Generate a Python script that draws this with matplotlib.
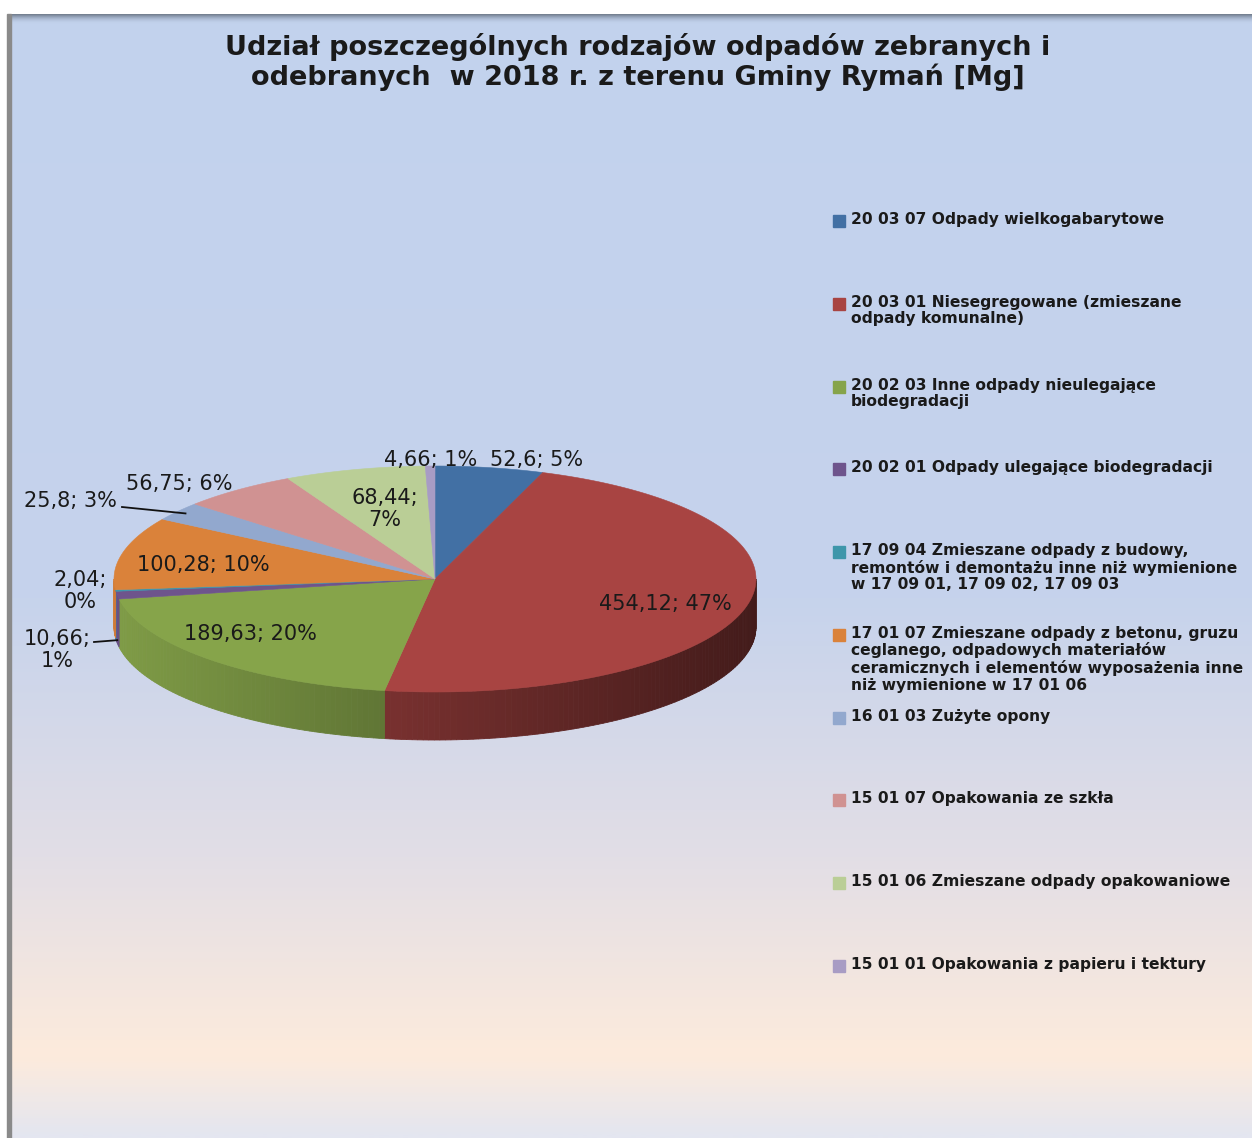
import numpy as np
import matplotlib.pyplot as plt
from matplotlib.colors import LinearSegmentedColormap, to_rgb
from matplotlib.patches import Polygon, Rectangle

# data (Mg), clockwise from 12 o'clock
categories = [
    "20 03 07 Odpady wielkogabarytowe",
    "20 03 01 Niesegregowane (zmieszane\nodpady komunalne)",
    "20 02 03 Inne odpady nieulegające\nbiodegradacji",
    "20 02 01 Odpady ulegające biodegradacji",
    "17 09 04 Zmieszane odpady z budowy,\nremontów i demontażu inne niż wymienione\nw 17 09 01, 17 09 02, 17 09 03",
    "17 01 07 Zmieszane odpady z betonu, gruzu\nceglanego, odpadowych materiałów\nceramicznych i elementów wyposażenia inne\nniż wymienione w 17 01 06",
    "16 01 03 Zużyte opony",
    "15 01 07 Opakowania ze szkła",
    "15 01 06 Zmieszane odpady opakowaniowe",
    "15 01 01 Opakowania z papieru i tektury",
]
values = [52.6, 454.12, 189.63, 10.66, 2.04, 100.28, 25.8, 56.75, 68.44, 4.66]
percent_labels = [5, 47, 20, 1, 0, 10, 3, 6, 7, 1]

colors = ["#4270A4", "#A84442", "#86A44A", "#6E548C", "#3E96AA",
          "#DA823A", "#92A8CE", "#D09292", "#BACE96", "#A89CC4"]

title = "Udział poszczególnych rodzajów odpadów zebranych i\nodebranych  w 2018 r. z terenu Gminy Rymań [Mg]"

# layout (pixels)
CX, CY, RX, RY, DEPTH = 435, 579, 321, 113, 48
# label text positions, two-line flag
label_pos = [(537, 460, False), (665, 604, False), (250, 634, False),
             (57, 650, True), (80, 591, True), (203, 565, False),
             (70, 501, False), (179, 484, False), (385, 509, True),
             (431, 460, False)]
leaders = {6: ((122, 507), 0.97, 0), 3: ((94, 642), 1.0, 45)}

fig = plt.figure(figsize=(12.52, 11.38), dpi=100)
ax = fig.add_axes([0, 0, 1, 1])
ax.set_xlim(0, 1252)
ax.set_ylim(1138, 0)
ax.axis("off")

# background gradient
stops = [(0.0, "#C2D2EE"), (0.52, "#C6D3EC"), (0.75, "#E2DEE6"),
         (0.93, "#FDEBDC"), (1.0, "#E4E6F0")]
bg = LinearSegmentedColormap.from_list("bg", stops)
grad = np.linspace(0, 1, 400).reshape(-1, 1)
ax.imshow(grad, cmap=bg, extent=[11, 1252, 1138, 15], aspect="auto", zorder=0)
shade = LinearSegmentedColormap.from_list("sh", [(0, "#6C7888"), (1, (0.76, 0.82, 0.93, 0))])
ax.imshow(np.linspace(0, 1, 50).reshape(-1, 1), cmap=shade,
          extent=[11, 1252, 24, 14], aspect="auto", zorder=1)
ax.add_patch(Rectangle((7, 14), 4, 1124, color="#8A8A8A", zorder=1))

ax.text(638, 62, title, ha="center", va="center", fontsize=19.5,
        fontweight="bold", color="#1A1A1A", linespacing=1.1, zorder=5)

total = sum(values)
bounds = np.concatenate([[0], np.cumsum(values)]) / total * 2 * np.pi


def arc(t0, t1, n):
    t = np.linspace(t0, t1, n)
    return CX + RX * np.sin(t), CY - RY * np.cos(t)


# side walls (front half only)
for i, c in enumerate(colors):
    t0 = max(bounds[i], np.pi / 2)
    t1 = min(bounds[i + 1], 3 * np.pi / 2)
    if t1 <= t0:
        continue
    n = max(2, int(np.degrees(t1 - t0)) + 2)
    xs, ys = arc(t0, t1, n)
    base = np.array(to_rgb(c))
    for k in range(n - 1):
        xm = (xs[k] + xs[k + 1]) / 2
        f = 0.95 - 0.55 * (xm - (CX - RX)) / (2 * RX)
        col = np.clip(base * f, 0, 1)
        quad = [(xs[k], ys[k]), (xs[k + 1], ys[k + 1]),
                (xs[k + 1], ys[k + 1] + DEPTH), (xs[k], ys[k] + DEPTH)]
        ax.add_patch(Polygon(quad, closed=True, facecolor=col,
                             edgecolor=col, linewidth=0.6, zorder=2))

# top faces
for i, c in enumerate(colors):
    n = max(3, int(np.degrees(bounds[i + 1] - bounds[i]) * 2) + 2)
    xs, ys = arc(bounds[i], bounds[i + 1], n)
    pts = [(CX, CY)] + list(zip(xs, ys))
    ax.add_patch(Polygon(pts, closed=True, facecolor=c, edgecolor=c,
                         linewidth=0.4, zorder=3))

# data labels
for i, v in enumerate(values):
    x, y, two = label_pos[i]
    num = str(v).replace(".", ",")
    txt = f"{num};\n{percent_labels[i]}%" if two else f"{num}; {percent_labels[i]}%"
    ax.text(x, y, txt, ha="center", va="center", fontsize=15,
            color="#1A1A1A", linespacing=1.1, zorder=5)
    if i in leaders:
        (lx, ly), rs, dz = leaders[i]
        tm = (bounds[i] + bounds[i + 1]) / 2
        ex = CX + rs * RX * np.sin(tm)
        ey = CY - rs * RY * np.cos(tm) + dz
        ax.plot([lx, ex], [ly, ey], color="#111111", lw=1.3, zorder=5)

# legend
for i, (lab, c) in enumerate(zip(categories, colors)):
    y = 221 + i * 82.75
    ax.add_patch(Rectangle((833, y - 6), 12, 12, color=c, zorder=5))
    ax.text(851, y - 9, lab, ha="left", va="top", fontsize=11.2,
            fontweight="bold", color="#1A1A1A", linespacing=1.13, zorder=5)

fig.savefig("out.png", dpi=100)
